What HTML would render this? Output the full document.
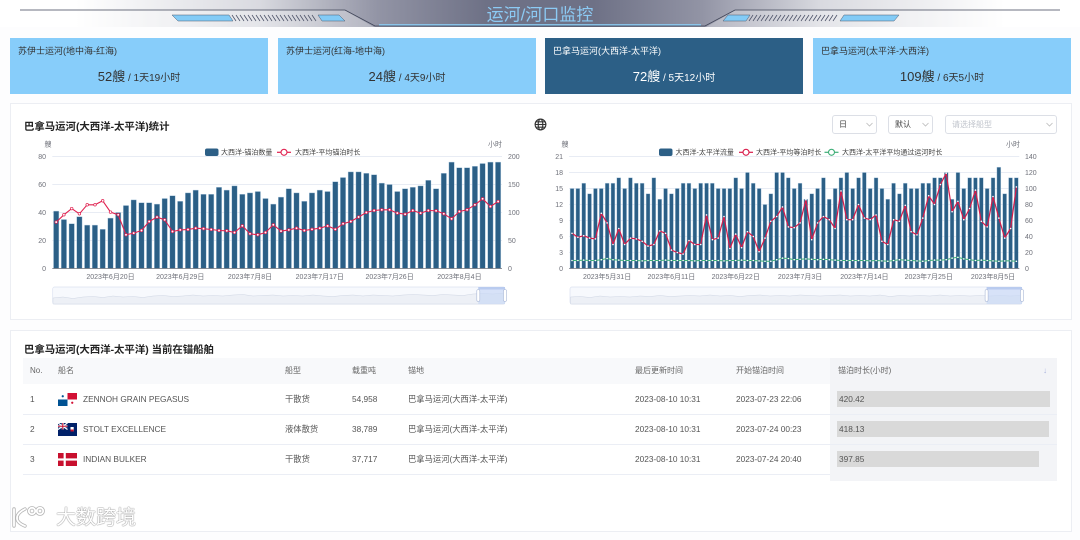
<!DOCTYPE html>
<html><head><meta charset="utf-8">
<style>
*{margin:0;padding:0;box-sizing:border-box}
html,body{width:1080px;height:540px;overflow:hidden;background:#fdfdfe}
body{position:relative;font-family:"Liberation Sans","Noto Sans CJK SC",sans-serif;color:#333}
.abs{position:absolute}
.card{position:absolute;top:38px;height:56px;width:258px;background:#87cdfa;color:#333}
.card.dark{background:#2c5f86;color:#fff}
.card .t{position:absolute;left:8px;top:7px;font-size:9px;line-height:12px;white-space:nowrap}
.card .v{position:absolute;left:0;right:0;top:30px;text-align:center;font-size:13px;line-height:18px;white-space:nowrap}
.card .v small{font-size:10px}
.panel{position:absolute;left:9.5px;width:1062px;background:#fff;border:1px solid #eceef3}
.ttl{position:absolute;font-size:10.4px;font-weight:bold;line-height:13px;color:#222;white-space:nowrap}
.c{position:absolute;font-size:8.3px;line-height:12px;color:#555;white-space:nowrap}
.h{position:absolute;font-size:8px;line-height:12px;color:#666;white-space:nowrap}
.sel{position:absolute;top:115px;height:19px;background:#fff;border:1px solid #dcdfe6;border-radius:3px;font-size:8px;line-height:17px;color:#444;padding-left:6px;white-space:nowrap}
.sel svg{position:absolute;top:6px}
.bar{position:absolute;left:837px;height:16px;background:#d9d9d9}
</style></head>
<body>

<!-- header banner -->
<svg class="abs" style="left:0;top:0" width="1080" height="30" viewBox="0 0 1080 30">
<defs>
<linearGradient id="hg" x1="0" x2="1" y1="0" y2="0">
<stop offset="0" stop-color="#fff"/><stop offset="0.07" stop-color="#fff"/><stop offset="0.24" stop-color="#d9dae0"/><stop offset="0.35" stop-color="#9294a5"/><stop offset="0.45" stop-color="#6e7186"/><stop offset="0.55" stop-color="#6e7186"/><stop offset="0.65" stop-color="#9294a5"/><stop offset="0.76" stop-color="#d9dae0"/><stop offset="0.93" stop-color="#fff"/><stop offset="1" stop-color="#fff"/>
</linearGradient>
</defs>
<rect x="0" y="0" width="1080" height="27" fill="url(#hg)"/>
<polygon points="0,10.5 345,10.5 374,27 0,27" fill="#fff" fill-opacity="0.3"/>
<polygon points="1080,10.5 735,10.5 706,27 1080,27" fill="#fff" fill-opacity="0.3"/>
<polyline points="20,10 345,10 375,26 705,26 735,10 1060,10" fill="none" stroke="#3f4457" stroke-width="0.8"/>
<line x1="379" y1="24.8" x2="701" y2="24.8" stroke="#8ccbf2" stroke-width="1.3"/>
<polygon points="172,15 229,15 233,21 178,21" fill="#83cbf6" stroke="#4b5a70" stroke-width="0.5"/>
<g stroke="#50566b" stroke-width="0.8">
<line x1="232" y1="15" x2="236" y2="21"/><line x1="236" y1="15" x2="240" y2="21"/><line x1="240" y1="15" x2="244" y2="21"/><line x1="244" y1="15" x2="248" y2="21"/><line x1="248" y1="15" x2="252" y2="21"/><line x1="252" y1="15" x2="256" y2="21"/><line x1="256" y1="15" x2="260" y2="21"/><line x1="260" y1="15" x2="264" y2="21"/><line x1="264" y1="15" x2="268" y2="21"/><line x1="268" y1="15" x2="272" y2="21"/><line x1="272" y1="15" x2="276" y2="21"/><line x1="276" y1="15" x2="280" y2="21"/><line x1="280" y1="15" x2="284" y2="21"/><line x1="284" y1="15" x2="288" y2="21"/><line x1="288" y1="15" x2="292" y2="21"/><line x1="292" y1="15" x2="296" y2="21"/><line x1="296" y1="15" x2="300" y2="21"/><line x1="300" y1="15" x2="304" y2="21"/><line x1="304" y1="15" x2="308" y2="21"/><line x1="308" y1="15" x2="312" y2="21"/><line x1="312" y1="15" x2="316" y2="21"/>
</g>
<polygon points="318,15 339,15 345,21 322,21" fill="#83cbf6" stroke="#4b5a70" stroke-width="0.5"/>
<polygon points="728,15 750,15 746,21 723,21" fill="#83cbf6" stroke="#4b5a70" stroke-width="0.5"/>
<g stroke="#50566b" stroke-width="0.8">
<line x1="753" y1="15" x2="749" y2="21"/><line x1="757" y1="15" x2="753" y2="21"/><line x1="761" y1="15" x2="757" y2="21"/><line x1="765" y1="15" x2="761" y2="21"/><line x1="769" y1="15" x2="765" y2="21"/><line x1="773" y1="15" x2="769" y2="21"/><line x1="777" y1="15" x2="773" y2="21"/><line x1="781" y1="15" x2="777" y2="21"/><line x1="785" y1="15" x2="781" y2="21"/><line x1="789" y1="15" x2="785" y2="21"/><line x1="793" y1="15" x2="789" y2="21"/><line x1="797" y1="15" x2="793" y2="21"/><line x1="801" y1="15" x2="797" y2="21"/><line x1="805" y1="15" x2="801" y2="21"/><line x1="809" y1="15" x2="805" y2="21"/><line x1="813" y1="15" x2="809" y2="21"/><line x1="817" y1="15" x2="813" y2="21"/><line x1="821" y1="15" x2="817" y2="21"/><line x1="825" y1="15" x2="821" y2="21"/><line x1="829" y1="15" x2="825" y2="21"/><line x1="833" y1="15" x2="829" y2="21"/><line x1="837" y1="15" x2="833" y2="21"/>
</g>
<polygon points="844,15 899,15 894,21 840,21" fill="#83cbf6" stroke="#4b5a70" stroke-width="0.5"/>
<text x="540" y="20.5" text-anchor="middle" font-size="17" fill="#8ccaf4" font-family="Liberation Sans, Noto Sans CJK SC, sans-serif">运河/河口监控</text>
</svg>

<!-- cards -->
<div class="card" style="left:10px"><div class="t">苏伊士运河(地中海-红海)</div><div class="v">52艘<small> / 1天19小时</small></div></div>
<div class="card" style="left:278px"><div class="t">苏伊士运河(红海-地中海)</div><div class="v">24艘<small> / 4天9小时</small></div></div>
<div class="card dark" style="left:545px"><div class="t">巴拿马运河(大西洋-太平洋)</div><div class="v">72艘<small> / 5天12小时</small></div></div>
<div class="card" style="left:813px"><div class="t">巴拿马运河(太平洋-大西洋)</div><div class="v">109艘<small> / 6天5小时</small></div></div>

<!-- panels -->
<div class="panel" style="top:103px;height:217px"></div>
<div class="panel" style="top:329.5px;height:202px"></div>

<div class="ttl" style="left:24px;top:120.5px">巴拿马运河(大西洋-太平洋)统计</div>

<!-- globe -->
<svg class="abs" style="left:534px;top:118px" width="13" height="13" viewBox="0 0 13 13">
<g fill="none" stroke="#333" stroke-width="1.1"><circle cx="6.5" cy="6.5" r="5.4"/><ellipse cx="6.5" cy="6.5" rx="2.3" ry="5.4"/><line x1="1.1" y1="6.5" x2="11.9" y2="6.5"/><path d="M2 3.8H11M2 9.2H11"/></g>
</svg>

<!-- selects -->
<div class="sel" style="left:832px;width:45px">日<svg style="left:33px" width="7" height="5"><polyline points="0.5,1 3.5,4 6.5,1" fill="none" stroke="#bbb" stroke-width="0.8"/></svg></div>
<div class="sel" style="left:888px;width:45px">默认<svg style="left:33px" width="7" height="5"><polyline points="0.5,1 3.5,4 6.5,1" fill="none" stroke="#bbb" stroke-width="0.8"/></svg></div>
<div class="sel" style="left:945px;width:112px;color:#c0c4cc">请选择船型<svg style="left:100px" width="7" height="5"><polyline points="0.5,1 3.5,4 6.5,1" fill="none" stroke="#bbb" stroke-width="0.8"/></svg></div>

<!-- charts -->
<svg class="abs" style="left:0;top:0" width="1080" height="330" viewBox="0 0 1080 330" font-family="Liberation Sans, Noto Sans CJK SC, sans-serif">
<defs>
<marker id="mL" markerUnits="userSpaceOnUse" markerWidth="5" markerHeight="5" refX="2.5" refY="2.5"><circle cx="2.5" cy="2.5" r="1.3" fill="#fff" stroke="#e0204f" stroke-width="0.7"/></marker>
<marker id="mW" markerUnits="userSpaceOnUse" markerWidth="4" markerHeight="4" refX="2" refY="2"><circle cx="2" cy="2" r="0.8" fill="#fff"/></marker>
</defs>
<!-- grid left -->
<g stroke="#e0e6f1" stroke-width="0.7">
<line x1="52.3" y1="156.5" x2="502" y2="156.5"/><line x1="52.3" y1="184.5" x2="502" y2="184.5"/><line x1="52.3" y1="212.5" x2="502" y2="212.5"/><line x1="52.3" y1="240.5" x2="502" y2="240.5"/>
<line x1="569.1" y1="156.5" x2="1019.3" y2="156.5"/><line x1="569.1" y1="172.5" x2="1019.3" y2="172.5"/><line x1="569.1" y1="188.5" x2="1019.3" y2="188.5"/><line x1="569.1" y1="204.5" x2="1019.3" y2="204.5"/><line x1="569.1" y1="220.5" x2="1019.3" y2="220.5"/><line x1="569.1" y1="236.5" x2="1019.3" y2="236.5"/><line x1="569.1" y1="252.5" x2="1019.3" y2="252.5"/>
</g>
<!-- axis labels left chart -->
<g font-size="7" fill="#6e7079">
<text x="46" y="159" text-anchor="end">80</text><text x="46" y="187" text-anchor="end">60</text><text x="46" y="215" text-anchor="end">40</text><text x="46" y="243" text-anchor="end">20</text><text x="46" y="271" text-anchor="end">0</text>
<text x="508" y="159">200</text><text x="508" y="187">150</text><text x="508" y="215">100</text><text x="508" y="243">50</text><text x="508" y="271">0</text>
<text x="48" y="146.5" text-anchor="middle">艘</text><text x="502" y="146.5" text-anchor="end">小时</text>
<g text-anchor="middle">
<text x="110.5" y="279">2023年6月20日</text><text x="180.2" y="279">2023年6月29日</text><text x="250" y="279">2023年7月8日</text><text x="319.8" y="279">2023年7月17日</text><text x="389.6" y="279">2023年7月26日</text><text x="459.4" y="279">2023年8月4日</text>
</g>
<!-- right chart -->
<text x="563" y="159" text-anchor="end">21</text><text x="563" y="175" text-anchor="end">18</text><text x="563" y="191" text-anchor="end">15</text><text x="563" y="207" text-anchor="end">12</text><text x="563" y="223" text-anchor="end">9</text><text x="563" y="239" text-anchor="end">6</text><text x="563" y="255" text-anchor="end">3</text><text x="563" y="271" text-anchor="end">0</text>
<text x="1025" y="159">140</text><text x="1025" y="175">120</text><text x="1025" y="191">100</text><text x="1025" y="207">80</text><text x="1025" y="223">60</text><text x="1025" y="239">40</text><text x="1025" y="255">20</text><text x="1025" y="271">0</text>
<text x="565" y="146.5" text-anchor="middle">艘</text><text x="1020" y="146.5" text-anchor="end">小时</text>
<g text-anchor="middle">
<text x="607.1" y="279">2023年5月31日</text><text x="671.4" y="279">2023年6月11日</text><text x="735.7" y="279">2023年6月22日</text><text x="800.1" y="279">2023年7月3日</text><text x="864.4" y="279">2023年7月14日</text><text x="928.7" y="279">2023年7月25日</text><text x="993" y="279">2023年8月5日</text>
</g>
</g>
<!-- legends -->
<g font-size="7" fill="#444">
<rect x="205" y="148.5" width="13.5" height="7.5" rx="2" fill="#2c5f86"/>
<text x="221" y="154.6">大西洋-锚泊数量</text>
<line x1="277" y1="152.3" x2="291" y2="152.3" stroke="#e0204f" stroke-width="1.2"/><circle cx="284" cy="152.3" r="3" fill="#fff" stroke="#e0204f" stroke-width="1.1"/>
<text x="295" y="154.6">大西洋-平均锚泊时长</text>
<rect x="659" y="148.5" width="13.5" height="7.5" rx="2" fill="#2c5f86"/>
<text x="675.5" y="154.6">大西洋-太平洋流量</text>
<line x1="739" y1="152.3" x2="753" y2="152.3" stroke="#d81b4a" stroke-width="1.2"/><circle cx="746" cy="152.3" r="3" fill="#fff" stroke="#d81b4a" stroke-width="1.1"/>
<text x="756" y="154.6">大西洋-平均等泊时长</text>
<line x1="824.5" y1="152.3" x2="838.5" y2="152.3" stroke="#3fae78" stroke-width="1.2"/><circle cx="831.5" cy="152.3" r="3" fill="#fff" stroke="#3fae78" stroke-width="1.1"/>
<text x="842" y="154.6">大西洋-太平洋平均通过运河时长</text>
</g>
<!-- left bars -->
<path fill="#2b5f86" stroke="#b6cfe3" stroke-width="0.4" d="M53.5 268.5v-57.4h5.4v57.4zM61.2 268.5v-49h5.4v49zM69 268.5v-44.8h5.4v44.8zM76.7 268.5v-51.8h5.4v51.8zM84.5 268.5v-43.4h5.4v43.4zM92.2 268.5v-43.4h5.4v43.4zM100 268.5v-39.2h5.4v39.2zM107.8 268.5v-50.4h5.4v50.4zM115.5 268.5v-56h5.4v56zM123.3 268.5v-63h5.4v63zM131 268.5v-68.6h5.4v68.6zM138.8 268.5v-65.8h5.4v65.8zM146.5 268.5v-65.8h5.4v65.8zM154.3 268.5v-64.4h5.4v64.4zM162 268.5v-70h5.4v70zM169.8 268.5v-72.8h5.4v72.8zM177.5 268.5v-67.2h5.4v67.2zM185.3 268.5v-75.6h5.4v75.6zM193 268.5v-78.4h5.4v78.4zM200.8 268.5v-74.2h5.4v74.2zM208.5 268.5v-74.2h5.4v74.2zM216.3 268.5v-81.2h5.4v81.2zM224 268.5v-78.4h5.4v78.4zM231.8 268.5v-82.6h5.4v82.6zM239.6 268.5v-74.2h5.4v74.2zM247.3 268.5v-75.6h5.4v75.6zM255.1 268.5v-77h5.4v77zM262.8 268.5v-70h5.4v70zM270.6 268.5v-64.4h5.4v64.4zM278.3 268.5v-71.4h5.4v71.4zM286.1 268.5v-79.8h5.4v79.8zM293.8 268.5v-75.6h5.4v75.6zM301.6 268.5v-67.2h5.4v67.2zM309.3 268.5v-75.6h5.4v75.6zM317.1 268.5v-78.4h5.4v78.4zM324.8 268.5v-77h5.4v77zM332.6 268.5v-86.8h5.4v86.8zM340.3 268.5v-91h5.4v91zM348.1 268.5v-96.6h5.4v96.6zM355.9 268.5v-96.6h5.4v96.6zM363.6 268.5v-95.2h5.4v95.2zM371.4 268.5v-93.8h5.4v93.8zM379.1 268.5v-85.4h5.4v85.4zM386.9 268.5v-84h5.4v84zM394.6 268.5v-77h5.4v77zM402.4 268.5v-79.8h5.4v79.8zM410.1 268.5v-81.2h5.4v81.2zM417.9 268.5v-82.6h5.4v82.6zM425.6 268.5v-88.2h5.4v88.2zM433.4 268.5v-79.8h5.4v79.8zM441.1 268.5v-95.2h5.4v95.2zM448.9 268.5v-106.4h5.4v106.4zM456.6 268.5v-100.8h5.4v100.8zM464.4 268.5v-100.8h5.4v100.8zM472.2 268.5v-102.2h5.4v102.2zM479.9 268.5v-105h5.4v105zM487.7 268.5v-106.4h5.4v106.4zM495.4 268.5v-106.4h5.4v106.4z"/>
<!-- right bars -->
<path fill="#2b5f86" stroke="#b6cfe3" stroke-width="0.4" d="M570.1 268.5v-80h3.9v80zM575.9 268.5v-80h3.9v80zM581.8 268.5v-85.3h3.9v85.3zM587.6 268.5v-74.7h3.9v74.7zM593.5 268.5v-80h3.9v80zM599.3 268.5v-80h3.9v80zM605.2 268.5v-85.3h3.9v85.3zM611 268.5v-85.3h3.9v85.3zM616.8 268.5v-90.7h3.9v90.7zM622.7 268.5v-80h3.9v80zM628.5 268.5v-90.7h3.9v90.7zM634.4 268.5v-85.3h3.9v85.3zM640.2 268.5v-85.3h3.9v85.3zM646.1 268.5v-74.7h3.9v74.7zM651.9 268.5v-90.7h3.9v90.7zM657.8 268.5v-69.3h3.9v69.3zM663.6 268.5v-80h3.9v80zM669.5 268.5v-74.7h3.9v74.7zM675.3 268.5v-80h3.9v80zM681.2 268.5v-85.3h3.9v85.3zM687 268.5v-85.3h3.9v85.3zM692.9 268.5v-80h3.9v80zM698.7 268.5v-85.3h3.9v85.3zM704.6 268.5v-85.3h3.9v85.3zM710.4 268.5v-85.3h3.9v85.3zM716.2 268.5v-80h3.9v80zM722.1 268.5v-80h3.9v80zM727.9 268.5v-80h3.9v80zM733.8 268.5v-90.7h3.9v90.7zM739.6 268.5v-80h3.9v80zM745.5 268.5v-96h3.9v96zM751.3 268.5v-85.3h3.9v85.3zM757.2 268.5v-80h3.9v80zM763 268.5v-64h3.9v64zM768.9 268.5v-74.7h3.9v74.7zM774.7 268.5v-96h3.9v96zM780.6 268.5v-96h3.9v96zM786.4 268.5v-90.7h3.9v90.7zM792.3 268.5v-80h3.9v80zM798.1 268.5v-85.3h3.9v85.3zM803.9 268.5v-69.3h3.9v69.3zM809.8 268.5v-74.7h3.9v74.7zM815.6 268.5v-80h3.9v80zM821.5 268.5v-90.7h3.9v90.7zM827.3 268.5v-69.3h3.9v69.3zM833.2 268.5v-80h3.9v80zM839 268.5v-90.7h3.9v90.7zM844.9 268.5v-96h3.9v96zM850.7 268.5v-80h3.9v80zM856.6 268.5v-90.7h3.9v90.7zM862.4 268.5v-96h3.9v96zM868.3 268.5v-80h3.9v80zM874.1 268.5v-90.7h3.9v90.7zM880 268.5v-80h3.9v80zM885.8 268.5v-69.3h3.9v69.3zM891.6 268.5v-85.3h3.9v85.3zM897.5 268.5v-74.7h3.9v74.7zM903.3 268.5v-85.3h3.9v85.3zM909.2 268.5v-80h3.9v80zM915 268.5v-80h3.9v80zM920.9 268.5v-85.3h3.9v85.3zM926.7 268.5v-85.3h3.9v85.3zM932.6 268.5v-90.7h3.9v90.7zM938.4 268.5v-90.7h3.9v90.7zM944.3 268.5v-96h3.9v96zM950.1 268.5v-69.3h3.9v69.3zM956 268.5v-96h3.9v96zM961.8 268.5v-80h3.9v80zM967.7 268.5v-90.7h3.9v90.7zM973.5 268.5v-90.7h3.9v90.7zM979.4 268.5v-90.7h3.9v90.7zM985.2 268.5v-80h3.9v80zM991.1 268.5v-90.7h3.9v90.7zM996.9 268.5v-101.3h3.9v101.3zM1002.7 268.5v-74.7h3.9v74.7zM1008.6 268.5v-90.7h3.9v90.7zM1014.4 268.5v-90.7h3.9v90.7z"/>
<!-- axis lines -->
<line x1="52.3" y1="268.5" x2="502" y2="268.5" stroke="#6e7079" stroke-width="0.8"/>
<line x1="569.1" y1="268.5" x2="1019.3" y2="268.5" stroke="#6e7079" stroke-width="0.8"/>
<!-- left line -->
<polyline fill="none" stroke="#e0204f" stroke-width="1.1" stroke-linejoin="round" marker-start="url(#mL)" marker-mid="url(#mL)" marker-end="url(#mL)" points="56.2,222.1 63.9,214.8 71.7,208.6 79.4,213.8 87.2,204.8 95,204.8 102.7,200.8 110.5,212.1 118.2,214.8 126,234.8 133.7,233.1 141.5,230.5 149.2,221.5 157,217.1 164.7,219.8 172.5,231.5 180.2,229.9 188,229.5 195.7,228.2 203.5,228.7 211.2,229.5 219,230.5 226.8,230.8 234.5,232.5 242.3,225.8 250,233.8 257.8,234.8 265.5,232.5 273.3,224.8 281,231.1 288.8,229.9 296.5,228.2 304.3,230.5 312,229.3 319.8,228.2 327.6,225.9 335.3,229.3 343.1,223.7 350.8,221.5 358.6,217 366.3,212.5 374.1,210.5 381.8,209.8 389.6,209.8 397.3,213.1 405.1,214.2 412.8,210.5 420.6,213.1 428.3,210.5 436.1,210.8 443.8,213.8 451.6,218.8 459.4,211.5 467.1,209.8 474.9,204.8 482.6,198.8 490.4,206.5 498.1,201.5"/>
<!-- right green line -->
<polyline fill="none" stroke="#3fae78" stroke-width="1" stroke-linejoin="round" marker-start="url(#mW)" marker-mid="url(#mW)" marker-end="url(#mW)" points="572,260.5 577.9,260.5 583.7,260.1 589.6,260.5 595.4,260.5 601.3,259.7 607.1,258.5 613,259.7 618.8,260.1 624.6,260.5 630.5,260.5 636.3,260.5 642.2,260.9 648,260.5 653.9,260.5 659.7,260.5 665.6,260.1 671.4,260.5 677.3,260.5 683.1,260.5 689,260.5 694.8,260.9 700.7,260.5 706.5,260.5 712.4,260.5 718.2,260.5 724,260.9 729.9,260.5 735.7,260.5 741.6,260.1 747.4,260.5 753.3,260.5 759.1,260.9 765,261.3 770.8,261.3 776.7,259.7 782.5,258.1 788.4,258.5 794.2,259.7 800.1,259.3 805.9,258.9 811.7,259.3 817.6,259.7 823.4,259.3 829.3,259.7 835.1,260.1 841,260.5 846.8,260.5 852.7,260.5 858.5,260.5 864.4,260.5 870.2,260.9 876.1,260.5 881.9,260.9 887.8,261.3 893.6,260.5 899.4,259.7 905.3,260.1 911.1,260.5 917,260.9 922.8,261.3 928.7,260.5 934.5,260.1 940.4,260.1 946.2,259.7 952.1,258.1 957.9,257.3 963.8,258.9 969.6,259.7 975.5,260.5 981.3,260.1 987.2,260.5 993,260.9 998.9,261.3 1004.7,260.9 1010.6,260.9 1016.4,261.3"/>
<!-- right red line -->
<polyline fill="none" stroke="#d81b4a" stroke-width="1.2" stroke-linejoin="round" marker-start="url(#mW)" marker-mid="url(#mW)" marker-end="url(#mW)" points="572,233.3 577.9,237.3 583.7,235.7 589.6,238.1 595.4,238.9 601.3,213.3 607.1,222.9 613,244.5 618.8,228.5 624.6,244.5 630.5,238.1 636.3,238.9 642.2,241.3 648,246.1 653.9,244.5 659.7,230.9 665.6,233.3 671.4,250.1 677.3,252.5 683.1,254.1 689,240.5 694.8,244.5 700.7,244.5 706.5,214.9 712.4,239.7 718.2,238.1 724,216.5 729.9,248.5 735.7,234.1 741.6,247.7 747.4,231.7 753.3,236.5 759.1,251.7 765,238.1 770.8,221.3 776.7,216.5 782.5,206.9 788.4,226.9 794.2,227.7 800.1,222.9 805.9,199.7 811.7,239.7 817.6,222.9 823.4,216.5 829.3,219.7 835.1,228.5 841,190.9 846.8,219.7 852.7,219.7 858.5,204.5 864.4,218.1 870.2,219.7 876.1,214.9 881.9,241.3 887.8,244.5 893.6,219.7 899.4,221.3 905.3,205.3 911.1,231.7 917,234.9 922.8,218.1 928.7,195.7 934.5,204.5 940.4,184.5 946.2,173.3 952.1,211.7 957.9,201.3 963.8,219.7 969.6,208.5 975.5,190.1 981.3,221.3 987.2,226.9 993,196.5 998.9,218.1 1004.7,238.1 1010.6,228.5 1016.4,186.9"/>
<!-- sliders -->
<rect x="52.7" y="287" width="452.3" height="17" rx="2" fill="#f7f9fd" stroke="#dbe2f0" stroke-width="0.7"/>
<path fill="#edf0f6" stroke="#cfd6e4" stroke-width="0.5" d="M53 304L53 298 63 297 73 298.5 83 297 93 296.5 103 297.5 113 296 123 297 133 296.5 143 297.5 153 296 163 295.5 173 296.5 183 296 193 295 203 296 213 295.5 223 296 233 295 243 294.5 253 296 263 295.5 273 295 283 296 293 295.5 303 296 313 295 323 296 333 296.5 343 295.5 353 295 363 296 373 295 383 295.5 393 296 403 295 413 294.5 423 295 433 295.5 443 294.5 453 295 463 295.5 473 294 483 293.5 493 294 504.5 293 504.5 304Z"/>
<rect x="478.3" y="287" width="26.7" height="17" fill="#c9d8f5" fill-opacity="0.7"/>
<rect x="478.3" y="287" width="26.7" height="2.5" fill="#b9cbef"/>
<rect x="476.8" y="289.5" width="3" height="12" rx="1.5" fill="#fff" stroke="#a9b7d6" stroke-width="0.6"/>
<rect x="503.5" y="289.5" width="3" height="12" rx="1.5" fill="#fff" stroke="#a9b7d6" stroke-width="0.6"/>

<rect x="570" y="287" width="452" height="17" rx="2" fill="#f7f9fd" stroke="#dbe2f0" stroke-width="0.7"/>
<path fill="#edf0f6" stroke="#cfd6e4" stroke-width="0.5" d="M570.5 304L570.5 297 580 296.5 590 297.5 600 296 610 297 620 296.5 630 297 640 296 650 296.5 660 295.5 670 296.5 680 296 690 295.5 700 296 710 295 720 296 730 295.5 740 296.5 750 295.5 760 295 770 296 780 295.5 790 296 800 295 810 295.5 820 296 830 295.5 840 295 850 296 860 295.5 870 296 880 295 890 296.5 900 295.5 910 296 920 295.5 930 296 940 295 950 296 960 295.5 970 296 980 295.5 990 296 1000 295.5 1010 296 1021.5 295.5 1021.5 304Z"/>
<rect x="986.6" y="287" width="35.4" height="17" fill="#c9d8f5" fill-opacity="0.7"/>
<rect x="986.6" y="287" width="35.4" height="2.5" fill="#b9cbef"/>
<rect x="985.1" y="289.5" width="3" height="12" rx="1.5" fill="#fff" stroke="#a9b7d6" stroke-width="0.6"/>
<rect x="1020.5" y="289.5" width="3" height="12" rx="1.5" fill="#fff" stroke="#a9b7d6" stroke-width="0.6"/>
</svg>

<!-- table -->
<div class="ttl" style="left:24px;top:343.5px">巴拿马运河(大西洋-太平洋) 当前在锚船舶</div>
<div class="abs" style="left:23px;top:358px;width:807px;height:26px;background:#f8f9fb"></div>
<div class="abs" style="left:830px;top:358px;width:227px;height:123px;background:#f3f4f7"></div>
<div class="abs" style="left:23px;top:414px;width:1034px;height:1px;background:#ebeef5"></div>
<div class="abs" style="left:23px;top:444px;width:1034px;height:1px;background:#ebeef5"></div>
<div class="abs" style="left:23px;top:474px;width:807px;height:1px;background:#ebeef5"></div>

<div class="h" style="left:30px;top:365px">No.</div>
<div class="h" style="left:58px;top:365px">船名</div>
<div class="h" style="left:285px;top:365px">船型</div>
<div class="h" style="left:352px;top:365px">载重吨</div>
<div class="h" style="left:408px;top:365px">锚地</div>
<div class="h" style="left:635px;top:365px">最后更新时间</div>
<div class="h" style="left:736px;top:365px">开始锚泊时间</div>
<div class="h" style="left:838px;top:365px">锚泊时长(小时)</div>
<div class="h" style="left:1043px;top:365px;color:#a9b3dd">↓</div>

<div class="bar" style="top:391px;width:213px"></div>
<div class="bar" style="top:421px;width:212px"></div>
<div class="bar" style="top:451px;width:202px"></div>

<svg class="abs" style="left:58px;top:392.5px" width="19" height="13" viewBox="0 0 19 13"><rect width="19" height="13" fill="#fff"/><rect x="9.5" width="9.5" height="6.5" fill="#d21034"/><rect y="6.5" width="9.5" height="6.5" fill="#005293"/><circle cx="4.75" cy="3.25" r="1.1" fill="#005293"/><circle cx="14.25" cy="9.75" r="1.1" fill="#d21034"/></svg>
<svg class="abs" style="left:58px;top:422.5px" width="19" height="13" viewBox="0 0 19 13"><rect width="19" height="13" fill="#012169"/><path d="M0 0L9.5 6.5M9.5 0L0 6.5" stroke="#fff" stroke-width="1.3"/><path d="M4.75 0V6.5M0 3.25H9.5" stroke="#fff" stroke-width="2"/><path d="M4.75 0V6.5M0 3.25H9.5" stroke="#c8102e" stroke-width="1"/><rect x="12.5" y="4" width="3.2" height="4.5" fill="#fff"/><rect x="12.5" y="6.5" width="3.2" height="2" fill="#c8102e"/></svg>
<svg class="abs" style="left:58px;top:452.5px" width="19" height="13" viewBox="0 0 19 13"><rect width="19" height="13" fill="#c8102e"/><rect x="5.6" width="2.2" height="13" fill="#fff"/><rect y="5.4" width="19" height="2.2" fill="#fff"/></svg>

<div class="c" style="left:30px;top:393px">1</div>
<div class="c" style="left:83px;top:393px">ZENNOH GRAIN PEGASUS</div>
<div class="c" style="left:285px;top:393px">干散货</div>
<div class="c" style="left:352px;top:393px">54,958</div>
<div class="c" style="left:408px;top:393px">巴拿马运河(大西洋-太平洋)</div>
<div class="c" style="left:635px;top:393px">2023-08-10 10:31</div>
<div class="c" style="left:736px;top:393px">2023-07-23 22:06</div>
<div class="c" style="left:839px;top:393px">420.42</div>

<div class="c" style="left:30px;top:423px">2</div>
<div class="c" style="left:83px;top:423px">STOLT EXCELLENCE</div>
<div class="c" style="left:285px;top:423px">液体散货</div>
<div class="c" style="left:352px;top:423px">38,789</div>
<div class="c" style="left:408px;top:423px">巴拿马运河(大西洋-太平洋)</div>
<div class="c" style="left:635px;top:423px">2023-08-10 10:31</div>
<div class="c" style="left:736px;top:423px">2023-07-24 00:23</div>
<div class="c" style="left:839px;top:423px">418.13</div>

<div class="c" style="left:30px;top:453px">3</div>
<div class="c" style="left:83px;top:453px">INDIAN BULKER</div>
<div class="c" style="left:285px;top:453px">干散货</div>
<div class="c" style="left:352px;top:453px">37,717</div>
<div class="c" style="left:408px;top:453px">巴拿马运河(大西洋-太平洋)</div>
<div class="c" style="left:635px;top:453px">2023-08-10 10:31</div>
<div class="c" style="left:736px;top:453px">2023-07-24 20:40</div>
<div class="c" style="left:839px;top:453px">397.85</div>

<!-- watermark logo -->
<svg class="abs" style="left:8px;top:503px" width="48" height="28" viewBox="0 0 48 28">
<g fill="none" stroke-linecap="round">
<g stroke="#b5b5b5" stroke-width="3.4"><path d="M6 6V23"/><path d="M17 6C11 9 9 12 9 15C9 18 12 21 17 23"/><circle cx="24" cy="8" r="3.2"/><circle cx="32" cy="8" r="3.2"/></g>
<g stroke="#fff" stroke-width="1.8"><path d="M6 6V23"/><path d="M17 6C11 9 9 12 9 15C9 18 12 21 17 23"/><circle cx="24" cy="8" r="3.2"/><circle cx="32" cy="8" r="3.2"/></g>
</g>
</svg>
<div class="abs" style="left:56px;top:506px;font-size:20px;line-height:24px;color:#fff;text-shadow:0 0 1px #999,0 0 1px #999,0 0 1px #999;white-space:nowrap">大数跨境</div>

</body></html>
